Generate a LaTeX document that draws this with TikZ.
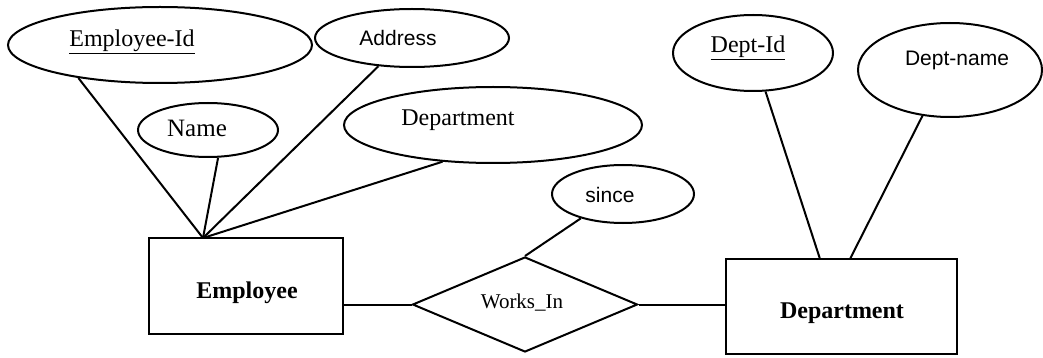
\documentclass[tikz,border=0pt]{standalone}
\usepackage{fontspec}
\setmainfont{Liberation Serif}
\newfontfamily\labelsans{Liberation Sans}
\usetikzlibrary{shapes.geometric}
\begin{document}
\begin{tikzpicture}[x=1pt,y=-1pt,
  attr/.style={draw, ellipse, inner sep=0pt, line width=2pt},
  ent/.style={draw, rectangle, inner sep=0pt, line width=2pt},
  rel/.style={draw, diamond, inner sep=0pt, line width=2pt},
  lbl/.style={font=\fontsize{24}{28}\selectfont, inner sep=0pt},
  slbl/.style={font=\labelsans\fontsize{21}{25}\selectfont, inner sep=0pt},
  link/.style={line width=2pt}]
\useasboundingbox (0,0) rectangle (1043,358);

% attributes of Employee
\node[attr, minimum width=304, minimum height=76] (eid) at (160,45) {};
\node[lbl] (eid-t) at (132,42) {\underline{Employee-Id}};
\node[attr, minimum width=194, minimum height=58] (addr) at (412,38) {};
\node[slbl] (addr-t) at (398,38) {Address};
\node[attr, minimum width=140, minimum height=54] (name) at (208,130) {};
\node[lbl, font=\fontsize{25}{29}\selectfont] (name-t) at (197,128) {Name};
\node[attr, minimum width=298, minimum height=76] (dpt) at (493,125) {};
\node[lbl] (dpt-t) at (458,120) {Department};

% attribute of the relationship
\node[attr, minimum width=142, minimum height=58] (since) at (623,194) {};
\node[slbl] (since-t) at (610,195) {since};

% attributes of Department
\node[attr, minimum width=160, minimum height=76] (did) at (753,53) {};
\node[lbl] (did-t) at (748,48) {\underline{Dept-Id}};
\node[attr, minimum width=184, minimum height=94] (dname) at (950,70) {};
\node[slbl] (dname-t) at (957,60) {Dept-name};

% entities and relationship
\node[ent, minimum width=194, minimum height=96] (emp) at (246,286) {};
\node[lbl] (emp-t) at (247,293) {\textbf{Employee}};
\node[ent, minimum width=231, minimum height=95] (dept) at (841.5,306.5) {};
\node[lbl] (dept-t) at (842,313) {\textbf{Department}};
\node[rel, minimum width=225, minimum height=95] (works) at (525,304.5) {};
\node[lbl, font=\fontsize{21}{25}\selectfont] (works-t) at (522,303) {Works\_In};

% attachment points on the entity boxes
\coordinate (empTop) at (203,238);
\coordinate (deptTopA) at (820,259);
\coordinate (deptTopB) at (850,259);

% connectors
\draw[link] (eid.202) -- (empTop);
\draw[link] (name.290) -- (empTop);
\draw[link] (addr.220) -- (empTop);
\draw[link] (dpt.216) -- (empTop);
\draw[link] (since.210) -- (works.north);
\draw[link] (did.288) -- (deptTopA);
\draw[link] (dname.239) -- (deptTopB);
\draw[link] (emp.east |- works.west) -- (works.west);
\draw[link] (works.east) -- (works.east -| dept.west);
\end{tikzpicture}
\end{document}
